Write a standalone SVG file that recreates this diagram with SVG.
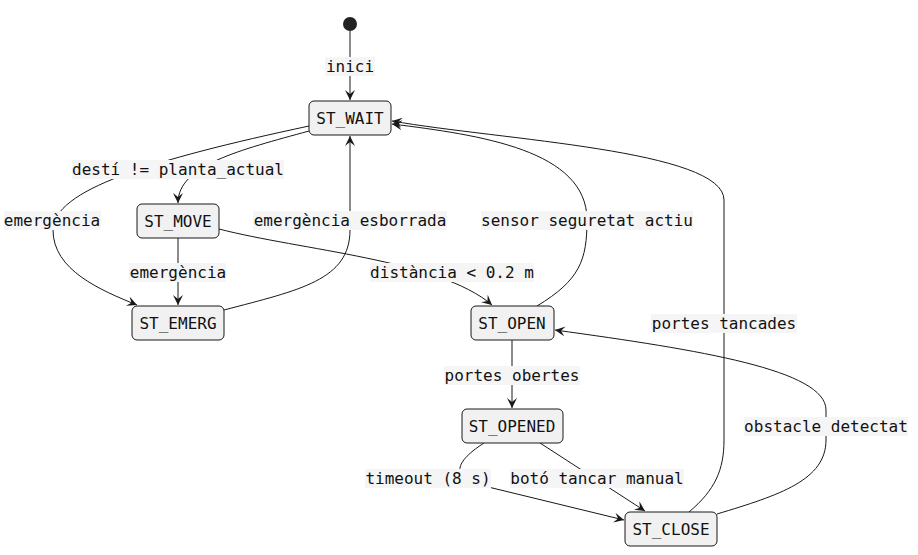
<svg xmlns="http://www.w3.org/2000/svg" width="918" height="555" viewBox="0 0 918 555">
<style>
text{font-family:"DejaVu Sans Mono","Liberation Mono",monospace;font-size:16px;fill:#111;text-anchor:middle}
.n rect{fill:#f1f1f1;stroke:#181818;stroke-width:1}
.c path{fill:none;stroke:#181818;stroke-width:1;marker-end:url(#a)}
.l rect{fill:#f5f5f5}
</style>
<defs><marker id="a" markerWidth="12" markerHeight="10" refX="10" refY="5" orient="auto" markerUnits="userSpaceOnUse"><path d="M0,0 L10,5 L0,10 L4,5 z" fill="#181818"/></marker></defs>
<circle cx="350" cy="24" r="7" fill="#222"/>
<g class="c">
<path d="M350,31 L350,100"/>
<path d="M309,131 C240,150 178,165 178,203"/>
<path d="M309,126 C150,160 53,190 53,230 C53,270 100,290 137,305"/>
<path d="M178,238 L178,305"/>
<path d="M224,310 C300,290 350,280 350,230 L350,136"/>
<path d="M219,229 C300,250 440,260 492,305"/>
<path d="M537,306 C580,280 587,260 587,220 C587,150 480,135 392,124"/>
<path d="M512,340 L512,408"/>
<path d="M484,443 C450,465 455,478 480,485 L624,520"/>
<path d="M540,443 L645,511"/>
<path d="M689,512 C715,490 724,470 724,440 L724,200 C724,150 500,140 392,121"/>
<path d="M717,514 C780,495 826,480 826,440 L826,410 C826,370 700,350 555,330"/>
</g>
<g class="l">
<rect x="325" y="57" width="50" height="19"/><text x="350" y="72">inici</text>
<rect x="72" y="160" width="212" height="19"/><text x="178" y="175">destí != planta_actual</text>
<rect x="4" y="211" width="97" height="19"/><text x="52" y="226">emergència</text>
<rect x="129" y="263" width="97" height="19"/><text x="178" y="278">emergència</text>
<rect x="253" y="211" width="194" height="19"/><text x="350" y="226">emergència esborrada</text>
<rect x="370" y="263" width="164" height="19"/><text x="452" y="278">distància &lt; 0.2 m</text>
<rect x="481" y="211" width="212" height="19"/><text x="587" y="226">sensor seguretat actiu</text>
<rect x="444" y="366" width="136" height="19"/><text x="512" y="381">portes obertes</text>
<rect x="651" y="314" width="146" height="19"/><text x="724" y="329">portes tancades</text>
<rect x="744" y="417" width="164" height="19"/><text x="826" y="432">obstacle detectat</text>
<rect x="365" y="469" width="126" height="19"/><text x="428" y="484">timeout (8 s)</text>
<rect x="510" y="469" width="174" height="19"/><text x="597" y="484">botó tancar manual</text>
</g>
<g id="wait" class="n"><rect x="309" y="101" width="82" height="34" rx="5"/><text x="350" y="124">ST_WAIT</text></g>
<g id="move" class="n"><rect x="137" y="204" width="82" height="34" rx="5"/><text x="178" y="227">ST_MOVE</text></g>
<g id="emerg" class="n"><rect x="132" y="306" width="92" height="34" rx="5"/><text x="178" y="329">ST_EMERG</text></g>
<g id="open" class="n"><rect x="471" y="306" width="83" height="34" rx="5"/><text x="512" y="329">ST_OPEN</text></g>
<g id="opened" class="n"><rect x="462" y="409" width="101" height="34" rx="5"/><text x="512" y="432">ST_OPENED</text></g>
<g id="close" class="n"><rect x="625" y="512" width="92" height="34" rx="5"/><text x="671" y="535">ST_CLOSE</text></g>
</svg>
